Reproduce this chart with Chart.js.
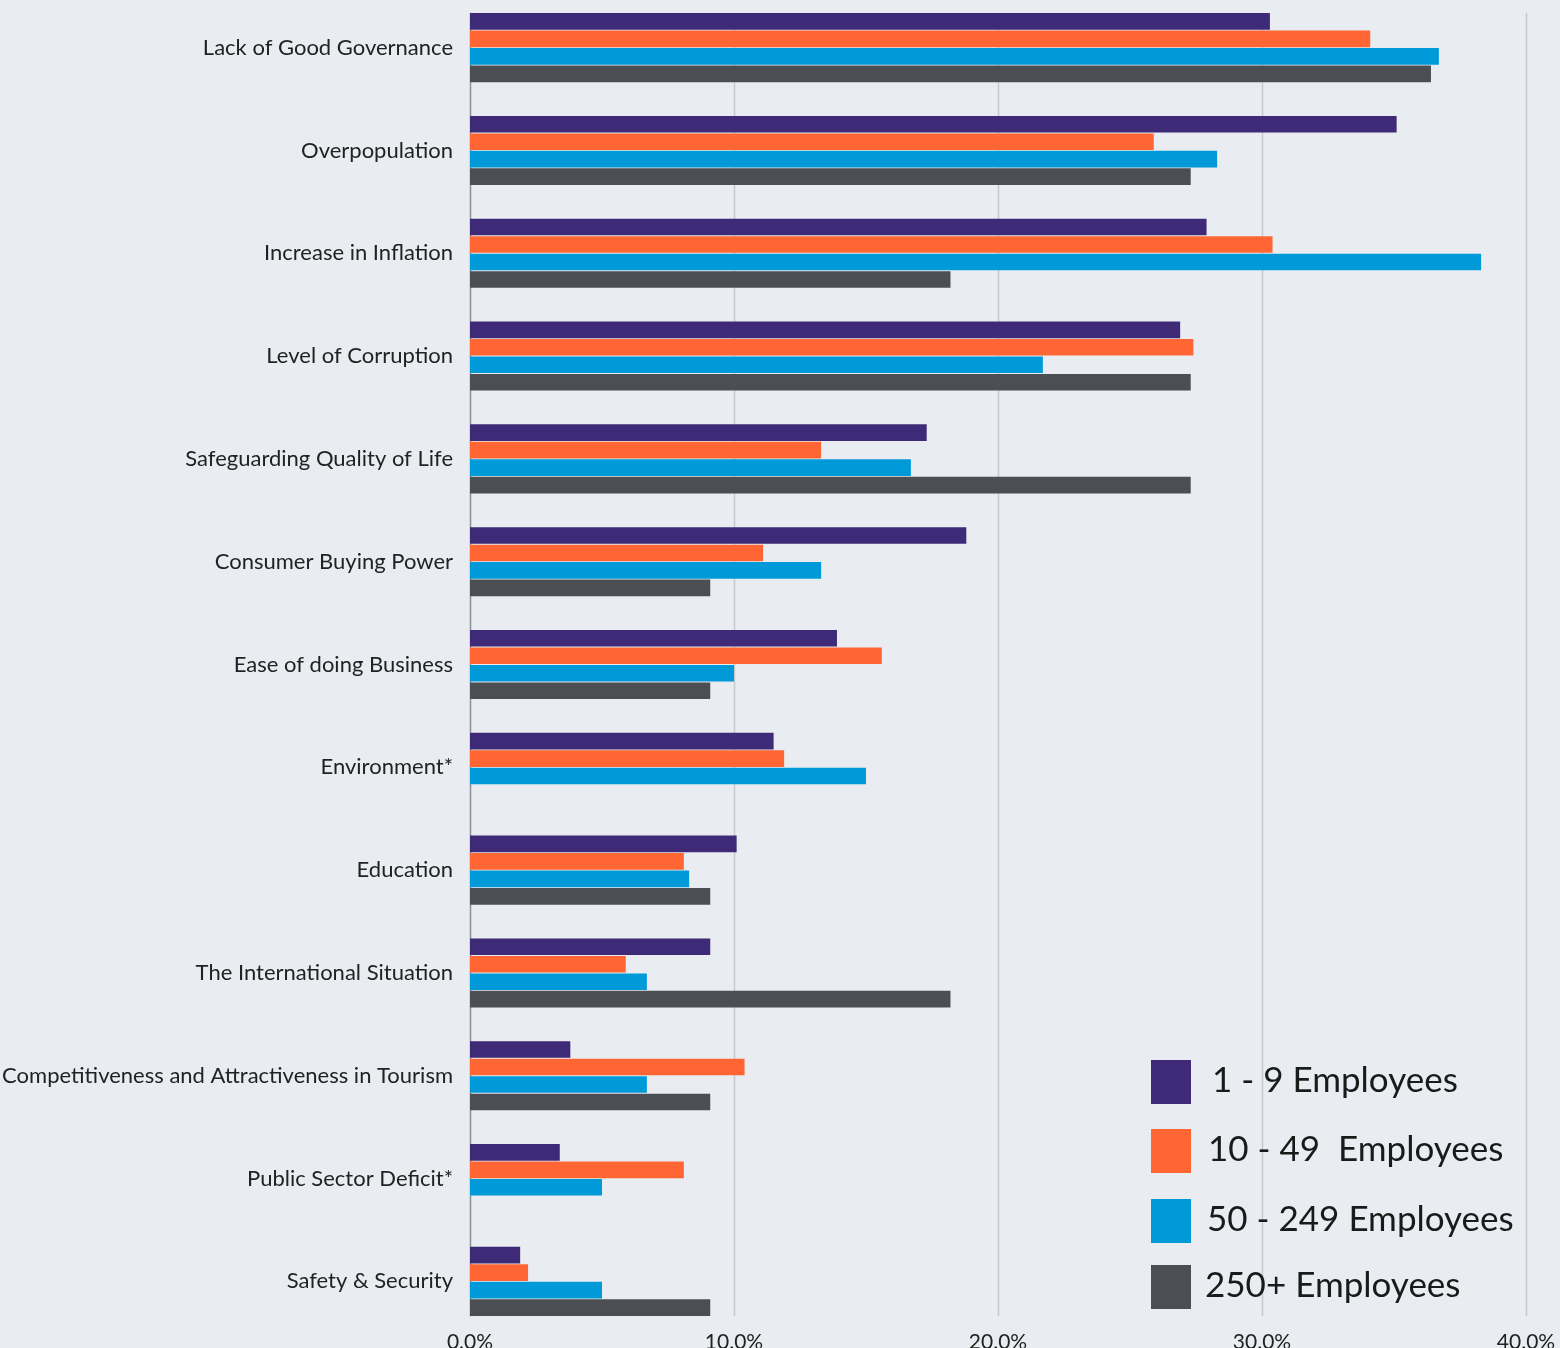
<!DOCTYPE html>
<html>
<head>
<meta charset="utf-8">
<script src="https://cdn.jsdelivr.net/npm/chart.js@4.4.0/dist/chart.umd.min.js"></script>
<style>
    html, body { margin: 0; padding: 0; background: #e9edf1; overflow: hidden; }
    body { width: 1560px; height: 1348px; position: relative; font-family: Lato, "Open Sans", sans-serif; }
    #wrap { position: absolute; left: 0; top: -34px; width: 1560px; height: 1397px; }
    #legend { position: absolute; left: 1151px; top: 1060px; }
    .item { position: absolute; left: 0; height: 44px; white-space: pre; }
    .box { position: absolute; left: 0; top: 0; width: 40px; height: 44px; }
    .txt { position: absolute; top: -4px; font-size: 35px; line-height: 44px; color: #1a1a1a; }
</style>
</head>
<body>
<div id="wrap"><canvas id="BarChart"></canvas></div>
<div id="legend"></div>
<script>
// categories, top to bottom
const categories = ["Lack of Good Governance", "Overpopulation", "Increase in Inflation", "Level of Corruption",
    "Safeguarding Quality of Life", "Consumer Buying Power", "Ease of doing Business", "Environment*",
    "Education", "The International Situation", "Competitiveness and Attractiveness in Tourism",
    "Public Sector Deficit*", "Safety & Security"];

const seriesLabels = ["1 - 9 Employees", "10 - 49  Employees", "50 - 249 Employees", "250+ Employees"];
const seriesColors = ["#3f2a78", "#ff6633", "#009ad9", "#4b4e53"];

// values in %
const micro  = [30.3, 35.1, 27.9, 26.9, 17.3, 18.8, 13.9, 11.5, 10.1, 9.1, 3.8, 3.4, 1.9];
const small  = [34.1, 25.9, 30.4, 27.4, 13.3, 11.1, 15.6, 11.9, 8.1, 5.9, 10.4, 8.1, 2.2];
const medium = [36.7, 28.3, 38.3, 21.7, 16.7, 13.3, 10.0, 15.0, 8.3, 6.7, 6.7, 5.0, 5.0];
const large  = [36.4, 27.3, 18.2, 27.3, 27.3, 9.1, 9.1, null, 9.1, 18.2, 9.1, null, 9.1];

const xTicks = [0, 10, 20, 30, 40];
const catPct = 0.68;

var allSeries = [micro, small, medium, large];
var datasets = [];
for(let i = 0; i < allSeries.length; i++){
    datasets.push({
        label: seriesLabels[i],
        data: allSeries[i],
        backgroundColor: seriesColors[i],
        borderWidth: 0,
        barPercentage: 0.95,
        categoryPercentage: catPct
    });
}

//Legend drawn as html, bottom right
var legendNode = document.getElementById("legend");
const legendTops = [0, 69, 139, 205];
const legendTextLeft = [61, 57, 56, 54];
for(let i = 0; i < seriesLabels.length; i++){
    var item = document.createElement("div");
    item.className = "item";
    item.style.top = legendTops[i] + "px";
    item.innerHTML = '<div class="box" style="background:' + seriesColors[i] + '"></div>' +
        '<div class="txt" style="left:' + legendTextLeft[i] + 'px"></div>';
    item.querySelector(".txt").textContent = seriesLabels[i];
    legendNode.appendChild(item);
}

//Gridlines only between first and last bar group, like the original
var gridPlugin = {
    id: "shortGrid",
    beforeDatasetsDraw: function(chart){
        var x = chart.scales.x, y = chart.scales.y, ctx = chart.ctx;
        var band = y.getPixelForValue(1) - y.getPixelForValue(0);
        var top = y.getPixelForValue(0) - band * catPct / 2;
        var bottom = y.getPixelForValue(categories.length - 1) + band * catPct / 2;
        ctx.save();
        ctx.lineWidth = 1.5;
        for(let i = 0; i < xTicks.length; i++){
            var px = Math.round(x.getPixelForValue(xTicks[i])) + 0.5;
            ctx.strokeStyle = xTicks[i] === 0 ? "#8c8f94" : "#c6c9ce";
            ctx.beginPath();
            ctx.moveTo(px, top);
            ctx.lineTo(px, bottom);
            ctx.stroke();
        }
        ctx.restore();
    }
};

var config = {
    type: "bar",
    data: {
        labels: categories,
        datasets: datasets
    },
    options: {
        indexAxis: "y",
        responsive: true,
        maintainAspectRatio: false,
        animation: false,
        layout: { padding: { top: 5.6, right: 34, left: 0, bottom: 0 } },
        plugins: {
            legend: { display: false },
            tooltip: { enabled: false }
        },
        scales: {
            x: {
                min: 0,
                max: 40,
                afterBuildTicks: function(scale){
                    scale.ticks = xTicks.map(v => ({ value: v }));
                },
                ticks: {
                    padding: -3,
                    color: "#222",
                    font: { family: "Lato", size: 21 },
                    callback: function(v){ return v.toFixed(1) + "%"; }
                },
                grid: { display: false, drawTicks: false },
                border: { display: false }
            },
            y: {
                afterFit: function(scale){ scale.width = 470; },
                ticks: {
                    padding: 17,
                    color: "#222",
                    font: { family: "Lato", size: 22 }
                },
                grid: { display: false, drawTicks: false },
                border: { display: false }
            }
        }
    },
    plugins: [gridPlugin]
};
var canvasBG = new Chart(document.getElementById("BarChart"), config);
window.myBar = canvasBG;
</script>
</body>
</html>
